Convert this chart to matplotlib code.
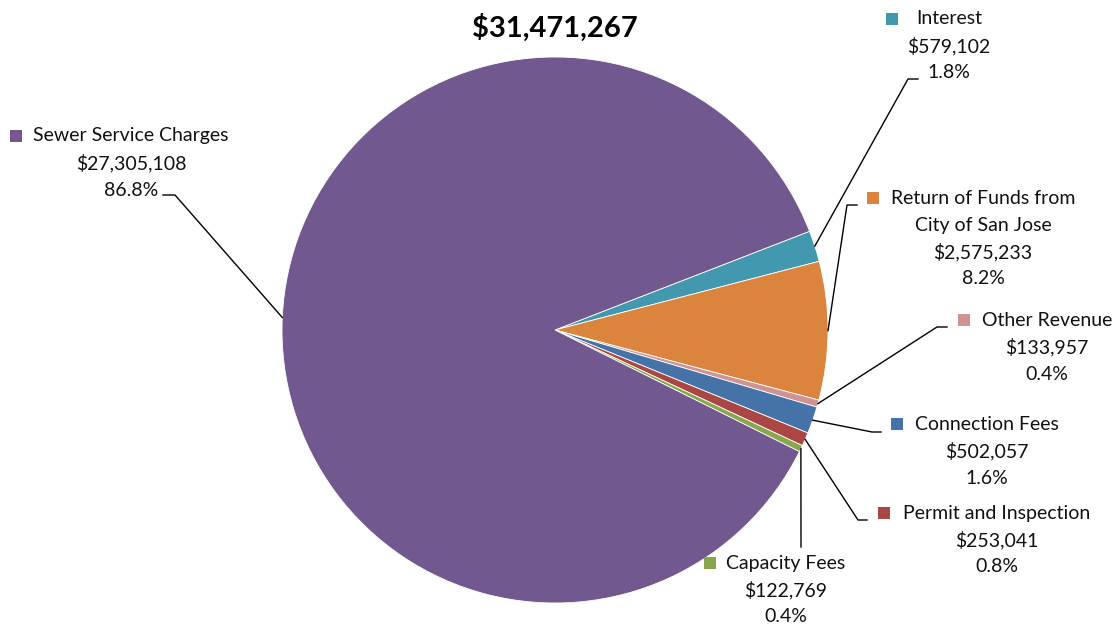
import numpy as np
import matplotlib
matplotlib.use("Agg")
import matplotlib.pyplot as plt
from matplotlib.patches import Rectangle

# Data
categories = ["Interest", "Return of Funds from\nCity of San Jose", "Other Revenue",
              "Connection Fees", "Permit and Inspection", "Capacity Fees",
              "Sewer Service Charges"]
values = [579102, 2575233, 133957, 502057, 253041, 122769, 27305108]
colors = ["#4198AF", "#DB843D", "#D19392", "#4572A7", "#AA4643", "#89A54E", "#71588F"]

total = sum(values)

W, H = 1117, 626
plt.rcParams["font.family"] = ["Lato", "DejaVu Sans"]

fig = plt.figure(figsize=(W / 100, H / 100), dpi=100)
ax = fig.add_axes([0, 0, 1, 1])


def py(y):
    # pixel row (top origin) -> data y
    return H - y


cx, cy, R = 555, py(330), 273
wedges, _ = ax.pie(values, colors=colors, startangle=21.2, counterclock=False,
                   center=(cx, cy), radius=R,
                   wedgeprops=dict(linewidth=0.6, edgecolor="white"))
ax.set_xlim(0, W)
ax.set_ylim(0, H)
ax.set_aspect("auto")
ax.axis("off")

# Label layout: text center x, first line y, marker x, elbow, end of leader
layout = [
    (949, 19, 892, (908, 79), (918, 79)),
    (983, 198, 873, (847, 205), (857, 205)),
    (1047, 320, 964, (937, 327), (947, 327)),
    (987, 424, 897, (872, 432), (881, 432)),
    (997, 513, 884, (858, 520), (867, 520)),
    (786, 563, 710, (801, 547), None),
    (131, 136, 16, (175, 195), (163, 195)),
]

fs = 14
step = 27
for w, cat, val, col, (tx, ty, mx, elbow, end) in zip(wedges, categories, values, colors, layout):
    lines = cat.split("\n") + ["${:,}".format(val), "{:.1f}%".format(100 * val / total)]
    for i, line in enumerate(lines):
        ax.text(tx, py(ty + i * step), line, ha="center", va="center",
                fontsize=fs, color="#111111")
    ax.add_patch(Rectangle((mx - 6, py(ty) - 6), 12, 12, color=col, linewidth=0))

    mid = np.deg2rad((w.theta1 + w.theta2) / 2)
    sx, sy = cx + R * np.cos(mid), cy + R * np.sin(mid)
    xs = [sx, elbow[0]]
    ys = [sy, py(elbow[1])]
    if end is not None:
        xs.append(end[0])
        ys.append(py(end[1]))
    ax.plot(xs, ys, color="black", linewidth=1.0)

ax.text(555, py(28), "${:,}".format(total), ha="center", va="center",
        fontsize=21, fontweight="bold", color="black")

fig.savefig("out.png", dpi=100, facecolor="white")
